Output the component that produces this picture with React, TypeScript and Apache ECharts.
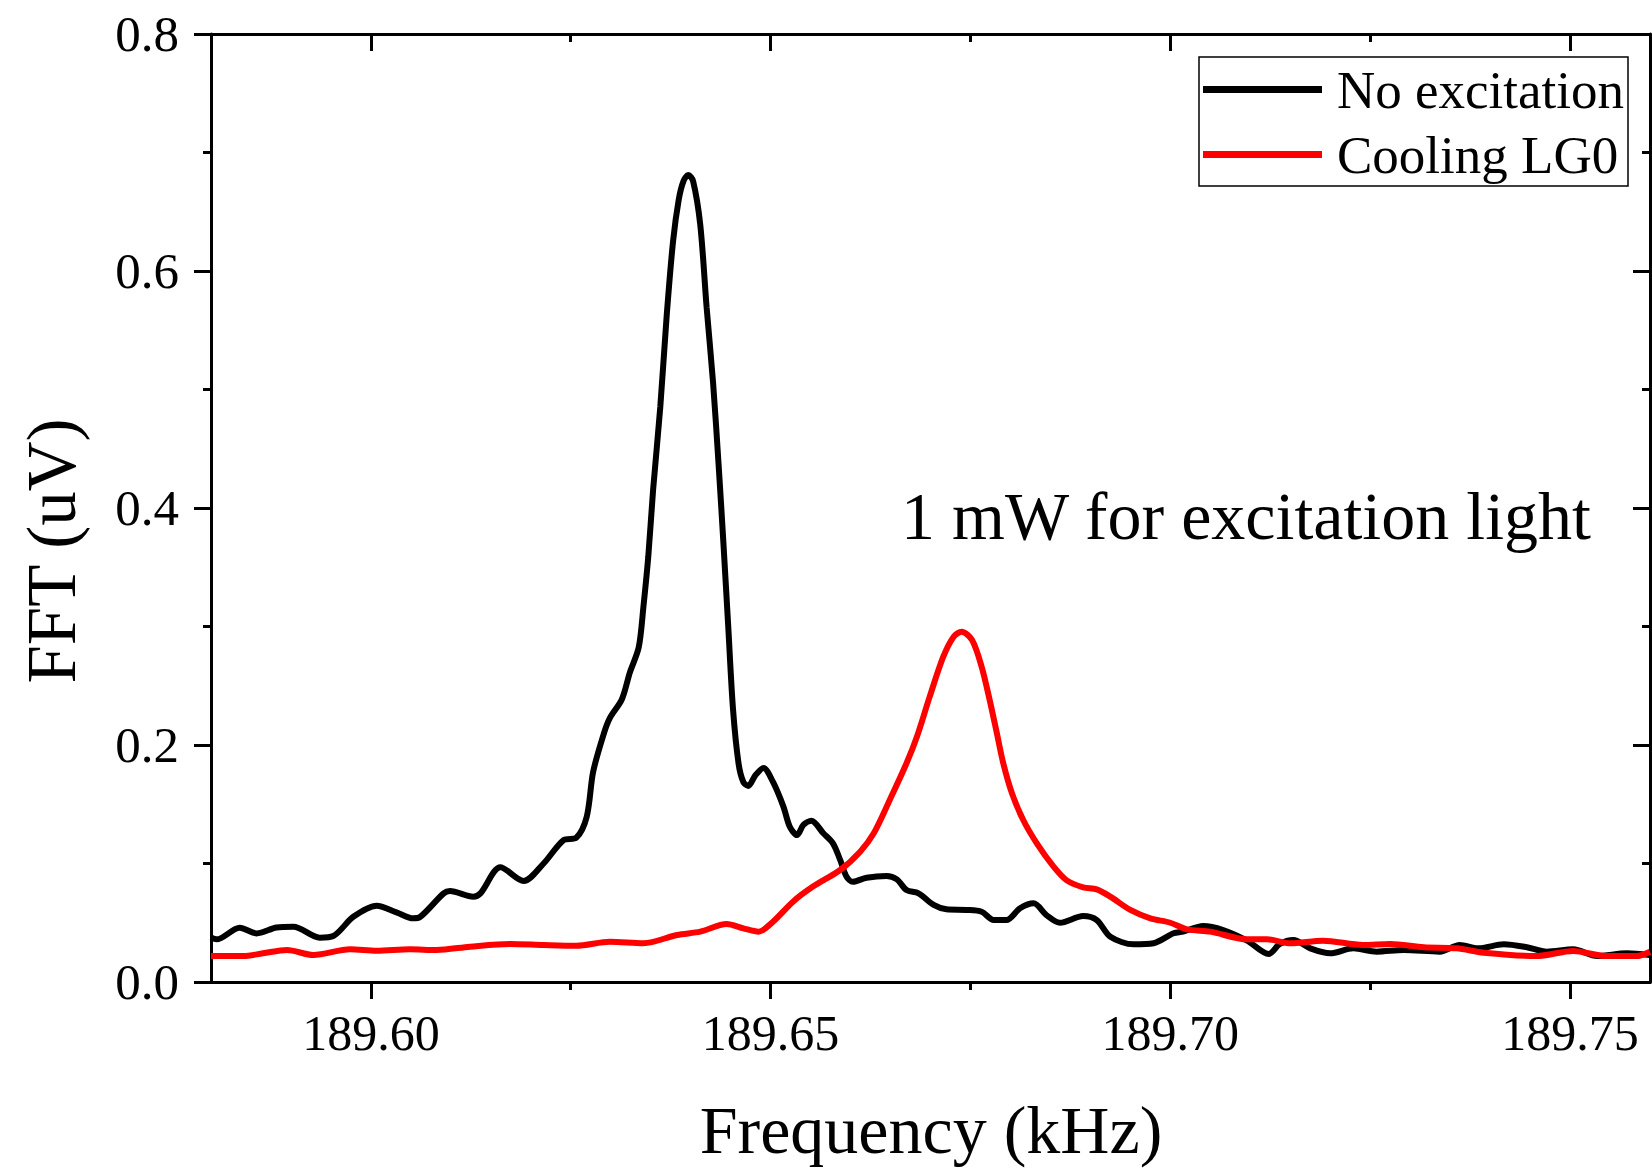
import React, { useEffect, useRef } from "react";
import * as echarts from "echarts";

const FONT = "'Liberation Serif', 'Times New Roman', serif";

const xMajorTicks = [189.6, 189.65, 189.7, 189.75];
const xMinorTicks = [189.625, 189.675, 189.725];
const yTicks = [0, 0.2, 0.4, 0.6, 0.8];

const seriesNames = ["No excitation", "Cooling LG0"];

const blackFreq = [
  189.58, 189.5807, 189.5836, 189.5857, 189.5882, 189.5903, 189.5936, 189.5953, 189.5978,
  189.6007, 189.6032, 189.6053, 189.6061, 189.6091, 189.6099, 189.6128, 189.6137, 189.6162,
  189.6191, 189.6216, 189.6241, 189.6257, 189.627, 189.6278, 189.6291, 189.6299, 189.6314,
  189.6324, 189.6335, 189.6341, 189.6347, 189.6353, 189.6362, 189.637, 189.6378, 189.6385,
  189.6391, 189.6397, 189.6403, 189.6412, 189.642, 189.6428, 189.6435, 189.6441, 189.6447,
  189.6453, 189.646, 189.6466, 189.6472, 189.6481, 189.6491, 189.6503, 189.6516, 189.6524,
  189.6533, 189.6541, 189.6551, 189.6566, 189.6578, 189.6587, 189.6595, 189.6603, 189.662,
  189.6645, 189.6658, 189.667, 189.6685, 189.6704, 189.672, 189.6745, 189.6764, 189.6779,
  189.6795, 189.6812, 189.6829, 189.6845, 189.6862, 189.6891, 189.6908, 189.6925, 189.6954,
  189.6979, 189.7004, 189.7016, 189.7041, 189.7066, 189.7096, 189.7123, 189.7137, 189.7154,
  189.7175, 189.72, 189.7229, 189.7258, 189.7292, 189.7337, 189.7362, 189.7385, 189.7417,
  189.7446, 189.7471, 189.7504, 189.7534, 189.7571, 189.76,
];
const blackVal = [
  0.0377, 0.036, 0.0458, 0.041, 0.046, 0.0467, 0.0374, 0.0388, 0.055,
  0.0644, 0.0588, 0.0537, 0.0546, 0.0748, 0.0768, 0.072, 0.0748, 0.0968,
  0.0852, 0.1, 0.1198, 0.1218, 0.1395, 0.1773, 0.2088, 0.2228, 0.2386,
  0.2613, 0.2823, 0.3173, 0.3592, 0.4152, 0.4852, 0.5622, 0.6252, 0.66,
  0.6759, 0.681, 0.676, 0.639, 0.569, 0.506, 0.436, 0.37, 0.3,
  0.23, 0.184, 0.1686, 0.1655, 0.1745, 0.1806, 0.1688, 0.148, 0.131,
  0.124, 0.1325, 0.136, 0.1255, 0.117, 0.103, 0.0889, 0.0846, 0.088,
  0.0895, 0.0866, 0.0776, 0.0748, 0.065, 0.0613, 0.0608, 0.0593, 0.0523,
  0.0523, 0.0622, 0.0664, 0.0565, 0.05, 0.0557, 0.0523, 0.0382, 0.0318,
  0.0327, 0.0411, 0.0425, 0.0473, 0.0439, 0.0349, 0.0236, 0.0321, 0.0354,
  0.0284, 0.0242, 0.0284, 0.0256, 0.027, 0.0256, 0.0312, 0.0284, 0.0318,
  0.0293, 0.0256, 0.0276, 0.0219, 0.0242, 0.0228,
];

const redFreq = [
  189.58, 189.584, 189.5865, 189.5895, 189.5928, 189.5974, 189.6007, 189.6049, 189.6082,
  189.6124, 189.6174, 189.6216, 189.6257, 189.6299, 189.6341, 189.6383, 189.6412, 189.6445,
  189.6466, 189.6485, 189.6503, 189.6528, 189.6553, 189.6587, 189.6612, 189.6629, 189.6649,
  189.667, 189.6683, 189.6699, 189.6716, 189.6729, 189.6739, 189.6752, 189.6764, 189.6774,
  189.6783, 189.6791, 189.6802, 189.6816, 189.6833, 189.6854, 189.687, 189.6891, 189.6908,
  189.6925, 189.695, 189.6975, 189.7, 189.7021, 189.705, 189.7096, 189.7121, 189.715,
  189.7191, 189.7241, 189.7275, 189.7317, 189.7358, 189.7392, 189.7458, 189.7504, 189.7545,
  189.7583, 189.76,
];
const redVal = [
  0.0219, 0.0219, 0.0242, 0.027, 0.0228, 0.0276, 0.0264, 0.0276, 0.027,
  0.0298, 0.0321, 0.0312, 0.0306, 0.034, 0.0327, 0.0397, 0.0425, 0.049,
  0.0453, 0.0425, 0.0509, 0.0678, 0.0805, 0.0945, 0.11, 0.1255, 0.1536,
  0.1846, 0.207, 0.2408, 0.2745, 0.2914, 0.2956, 0.2886, 0.266, 0.238,
  0.21, 0.1846, 0.159, 0.1367, 0.117, 0.0973, 0.086, 0.0799, 0.0782,
  0.072, 0.0608, 0.0537, 0.05, 0.0444, 0.0425, 0.036, 0.036, 0.0327,
  0.0349, 0.0312, 0.0321, 0.0293, 0.0284, 0.0247, 0.0219, 0.0262, 0.0219,
  0.0219, 0.0256,
];

const annotation = "1 mW for excitation light";
const xTitle = "Frequency (kHz)";
const yTitle = "FFT (uV)";

export default function App() {
  const ref = useRef<HTMLDivElement>(null);
  useEffect(() => {
    if (!ref.current) return;
    const chart = echarts.init(ref.current, undefined, { renderer: "svg" });
    const axisLine = { show: true, onZero: false, lineStyle: { color: "#000", width: 3 } };
    const baseX = {
      type: "value" as const,
      min: 189.58,
      max: 189.76,
      splitLine: { show: false },
      axisLine,
    };
    chart.setOption({
      animation: false,
      backgroundColor: "#fff",
      grid: { left: 211, top: 34, width: 1439, height: 948, containLabel: false },
      legend: {
        data: seriesNames,
        orient: "vertical",
        left: 1199,
        top: 57,
        icon: "rect",
        itemWidth: 119,
        itemHeight: 7,
        itemGap: 12,
        padding: [6, 4, 5, 4],
        borderColor: "#000",
        borderWidth: 1.5,
        backgroundColor: "#fff",
        textStyle: { fontFamily: FONT, fontSize: 53, color: "#000", padding: [0, 0, 0, 10] },
      },
      xAxis: [
        {
          ...baseX,
          position: "bottom",
          axisTick: { show: true, inside: false, length: 17, customValues: xMajorTicks, lineStyle: { width: 3, color: "#000" } },
          axisLabel: {
            show: true,
            customValues: xMajorTicks,
            margin: 26,
            fontFamily: FONT,
            fontSize: 50,
            color: "#000",
            formatter: (v: number) => v.toFixed(2),
          },
        },
        {
          ...baseX,
          position: "bottom",
          axisTick: { show: true, inside: false, length: 8, customValues: xMinorTicks, lineStyle: { width: 3, color: "#000" } },
          axisLabel: { show: false },
        },
        {
          ...baseX,
          position: "top",
          axisTick: { show: true, inside: true, length: 17, customValues: xMajorTicks, lineStyle: { width: 3, color: "#000" } },
          axisLabel: { show: false },
        },
        {
          ...baseX,
          position: "top",
          axisTick: { show: true, inside: true, length: 8, customValues: xMinorTicks, lineStyle: { width: 3, color: "#000" } },
          axisLabel: { show: false },
        },
      ],
      yAxis: [
        {
          type: "value",
          position: "left",
          min: yTicks[0],
          max: yTicks[yTicks.length - 1],
          interval: 0.2,
          splitLine: { show: false },
          axisLine,
          axisTick: { show: true, inside: false, length: 17, lineStyle: { width: 3, color: "#000" } },
          minorTick: { show: true, splitNumber: 2, length: 8, lineStyle: { width: 3, color: "#000" } },
          axisLabel: {
            margin: 32,
            fontFamily: FONT,
            fontSize: 51,
            color: "#000",
            formatter: (v: number) => v.toFixed(1),
          },
        },
        {
          type: "value",
          position: "right",
          min: yTicks[0],
          max: yTicks[yTicks.length - 1],
          interval: 0.2,
          splitLine: { show: false },
          axisLine,
          axisTick: { show: true, inside: true, length: 17, lineStyle: { width: 3, color: "#000" } },
          minorTick: { show: true, splitNumber: 2, length: 8, lineStyle: { width: 3, color: "#000" } },
          axisLabel: { show: false },
        },
      ],
      series: [
        {
          name: seriesNames[0],
          type: "line",
          xAxisIndex: 0,
          yAxisIndex: 0,
          data: blackFreq.map((f, i) => [f, blackVal[i]]),
          showSymbol: false,
          symbol: "none",
          smooth: 0.3,
          lineStyle: { color: "#000", width: 6 },
          itemStyle: { color: "#000" },
          z: 3,
        },
        {
          name: seriesNames[1],
          type: "line",
          xAxisIndex: 0,
          yAxisIndex: 0,
          data: redFreq.map((f, i) => [f, redVal[i]]),
          showSymbol: false,
          symbol: "none",
          smooth: 0.3,
          lineStyle: { color: "#ff0000", width: 6 },
          itemStyle: { color: "#ff0000" },
          z: 4,
        },
      ],
      graphic: [
        {
          type: "text",
          x: 901,
          y: 516,
          style: { text: annotation, fontFamily: FONT, fontSize: 68, fill: "#000", align: "left", verticalAlign: "middle" },
        },
        {
          type: "text",
          x: 931,
          y: 1130,
          style: { text: xTitle, fontFamily: FONT, fontSize: 68, fill: "#000", align: "center", verticalAlign: "middle" },
        },
        {
          type: "text",
          x: 52,
          y: 551,
          rotation: Math.PI / 2,
          style: { text: yTitle, fontFamily: FONT, fontSize: 69, fill: "#000", align: "center", verticalAlign: "middle" },
        },
      ],
    });
    return () => chart.dispose();
  }, []);
  return (
    <div
      ref={ref}
      style={{ position: "absolute", left: 0, top: 0, width: 1652, height: 1168, background: "#fff" }}
    />
  );
}
